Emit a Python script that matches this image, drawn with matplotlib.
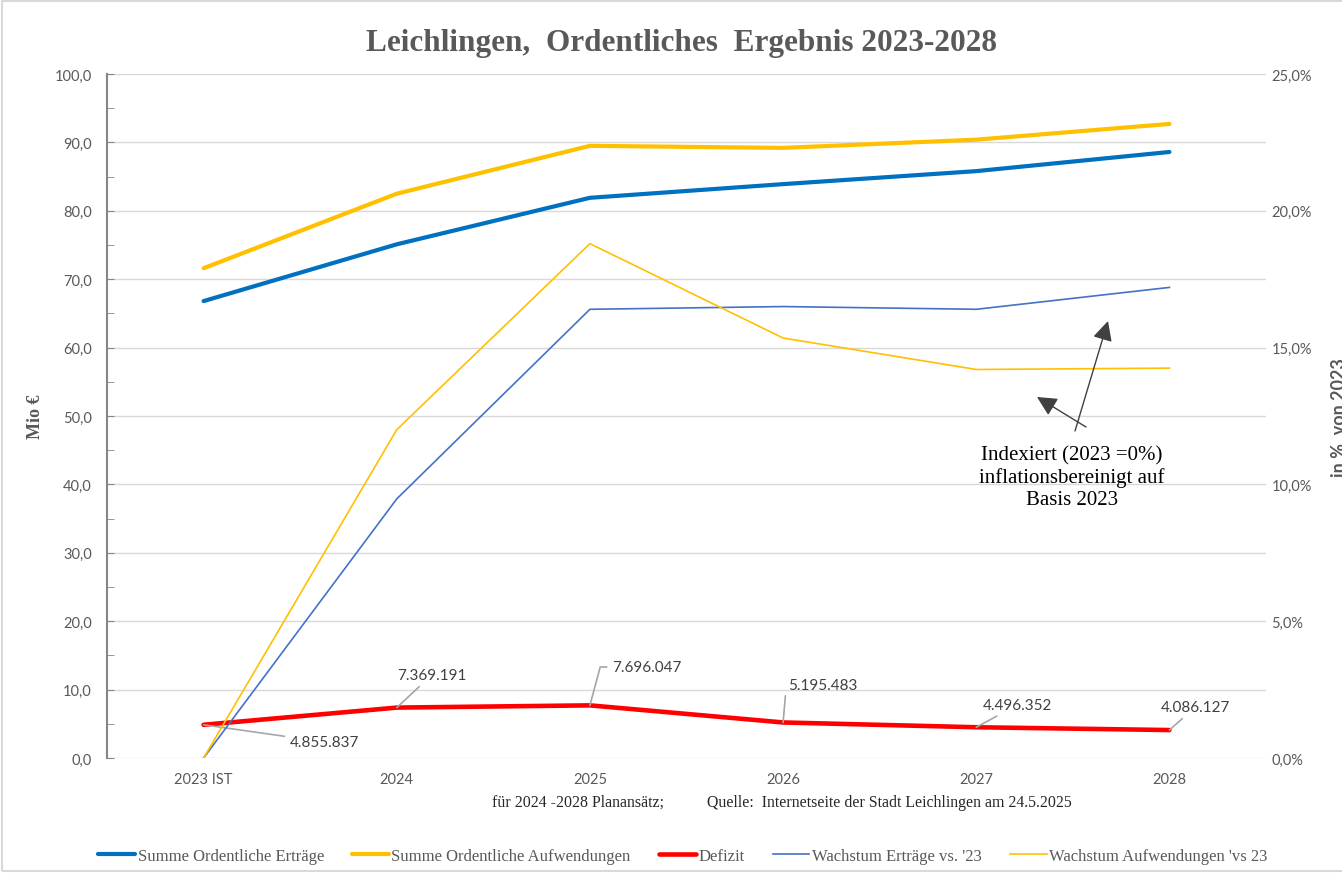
import matplotlib
matplotlib.use("Agg")
import matplotlib.pyplot as plt
from matplotlib.ticker import MultipleLocator, FuncFormatter
from matplotlib.patches import Rectangle, FancyArrowPatch

# ---- data ----
categories = ["2023 IST", "2024", "2025", "2026", "2027", "2028"]
ertraege = [66.8, 75.1, 81.9, 83.9, 85.8, 88.6]
aufwendungen = [71.6, 82.5, 89.5, 89.2, 90.4, 92.7]
defizit = [4.855837, 7.369191, 7.696047, 5.195483, 4.496352, 4.086127]
defizit_labels = ["4.855.837", "7.369.191", "7.696.047", "5.195.483", "4.496.352", "4.086.127"]
wachstum_ertraege = [0.0, 0.0947, 0.164, 0.165, 0.164, 0.172]
wachstum_aufwendungen = [0.0, 0.120, 0.188, 0.1535, 0.142, 0.1425]

W, H = 1342, 878
fig = plt.figure(figsize=(W / 100, H / 100), dpi=100)
fig.patch.set_facecolor("white")

def fx(px):
    return px / W

def fy(py):
    return 1 - py / H

ax_l, ax_r = 107, 1266
ax = fig.add_axes([fx(ax_l), fy(759), fx(ax_r) - fx(ax_l), fy(75) - fy(759)])
x = list(range(len(categories)))

gray_txt = "#595959"
tick_font = "Lato"
serif = "Liberation Serif"

ax.set_xlim(-0.5, 5.5)
ax.set_ylim(0, 100)
ax.yaxis.set_major_locator(MultipleLocator(10))
ax.yaxis.set_minor_locator(MultipleLocator(5))
ax.yaxis.set_major_formatter(FuncFormatter(lambda v, p: f"{v:.1f}".replace(".", ",")))
ax.grid(axis="y", color="#d9d9d9", lw=1.0)
ax.set_axisbelow(True)
for s in ["top", "right", "bottom"]:
    ax.spines[s].set_visible(False)
ax.spines["left"].set_color("#868686")
ax.spines["left"].set_linewidth(1.5)
ax.tick_params(axis="y", which="major", direction="in", length=5, color="#868686",
               labelsize=10.5, labelcolor=gray_txt, pad=11)
ax.tick_params(axis="y", which="minor", direction="in", length=5, color="#868686")
ax.set_xticks(x)
ax.set_xticklabels(categories)
ax.tick_params(axis="x", length=0, labelsize=10.5, labelcolor=gray_txt, pad=10)
for lab in ax.get_xticklabels() + ax.get_yticklabels():
    lab.set_fontfamily(tick_font)

l1, = ax.plot(x, ertraege, color="#0070C0", lw=3.0, solid_capstyle="round", label="Summe Ordentliche Erträge", zorder=3)
l2, = ax.plot(x, aufwendungen, color="#FFC000", lw=3.0, solid_capstyle="round", label="Summe Ordentliche Aufwendungen", zorder=3)
l3, = ax.plot(x, defizit, color="#FF0000", lw=3.3, solid_capstyle="round", label="Defizit", zorder=3)

# y label
fig.text(fx(36), fy(417), "Mio €", rotation=90, ha="center", va="center",
         fontfamily=serif, fontweight="bold", fontsize=13, color=gray_txt)

# data labels for Defizit
label_pos = [(325, 743), (432, 676), (647, 668), (823, 686), (1017, 706), (1195, 708)]
conn = [None, None, "angle,angleA=0,angleB=75,rad=0", "angle,angleA=0,angleB=85,rad=0", None, None]
for i, (lab, (px, py)) in enumerate(zip(defizit_labels, label_pos)):
    tx = (px - 204) / 193.0
    ty = (759 - py) / 6.84
    ap = dict(arrowstyle="-", color="#a6a6a6", lw=1.2, shrinkA=2, shrinkB=0)
    if conn[i]:
        ap["connectionstyle"] = conn[i]
        ap["relpos"] = (0.0, 0.5)
    ax.annotate(lab, xy=(x[i], defizit[i]), xytext=(tx, ty), ha="center", va="center",
                fontsize=11, fontfamily=tick_font, color="#404040", arrowprops=ap, zorder=5)

# secondary axis
ax2 = ax.twinx()
ax2.set_ylim(0, 0.25)
ax2.yaxis.set_major_locator(MultipleLocator(0.05))
ax2.yaxis.set_major_formatter(FuncFormatter(lambda v, p: f"{v*100:.1f}%".replace(".", ",")))
for s in ax2.spines.values():
    s.set_visible(False)
ax2.tick_params(axis="y", length=0, labelsize=10.5, labelcolor=gray_txt, pad=4)
for lab in ax2.get_yticklabels():
    lab.set_fontfamily(tick_font)
l4, = ax2.plot(x, wachstum_ertraege, color="#4472C4", lw=1.2, label="Wachstum Erträge vs. '23")
l5, = ax2.plot(x, wachstum_aufwendungen, color="#FFC000", lw=1.2, label="Wachstum Aufwendungen 'vs 23")

# title
fig.text(fx(681), fy(43), "Leichlingen,  Ordentliches  Ergebnis 2023-2028", ha="center", va="center",
         fontsize=22.5, fontweight="bold", fontfamily=serif, color=gray_txt)

# right axis label (cut off at the edge, as in the reference)
fig.text(fx(1331), fy(418), "in %  von 2023", rotation=90, ha="left", va="center",
         fontsize=13, fontweight="bold", fontfamily=tick_font, color=gray_txt)

# annotation text and arrows
fig.text(fx(1072), fy(478), "Indexiert (2023 =0%)\ninflationsbereinigt auf\nBasis 2023", ha="center", va="center",
         fontsize=15, fontfamily=serif, color="black", linespacing=1.2)
arrow_kw = dict(arrowstyle="-|>,head_length=1.2,head_width=0.6", mutation_scale=10,
                color="#404040", lw=1.0, shrinkA=0, shrinkB=0)
fig.add_artist(FancyArrowPatch((1075, H - 432), (1108, H - 322), transform=None, **arrow_kw))
fig.add_artist(FancyArrowPatch((1086, H - 428), (1037, H - 398), transform=None, **arrow_kw))

# source text
fig.text(fx(492), fy(803), "für 2024 -2028 Planansätz;", ha="left", va="center",
         fontsize=11.4, fontfamily=serif, color="#262626")
fig.text(fx(707), fy(803), "Quelle:  Internetseite der Stadt Leichlingen am 24.5.2025", ha="left", va="center",
         fontsize=11.4, fontfamily=serif, color="#262626")

# legend
leg = fig.legend(handles=[l1, l2, l3, l4, l5], loc="center", bbox_to_anchor=(fx(683), fy(857)),
                 ncol=5, frameon=False, handlelength=2.2, handletextpad=0.15,
                 columnspacing=1.7, prop={"family": serif, "size": 12})
for t in leg.get_texts():
    t.set_color(gray_txt)

# border
fig.add_artist(Rectangle((2, 6), W + 10, H - 8, transform=None, fill=False, edgecolor="#d9d9d9", lw=1.5))

fig.savefig("out.png", dpi=100)
